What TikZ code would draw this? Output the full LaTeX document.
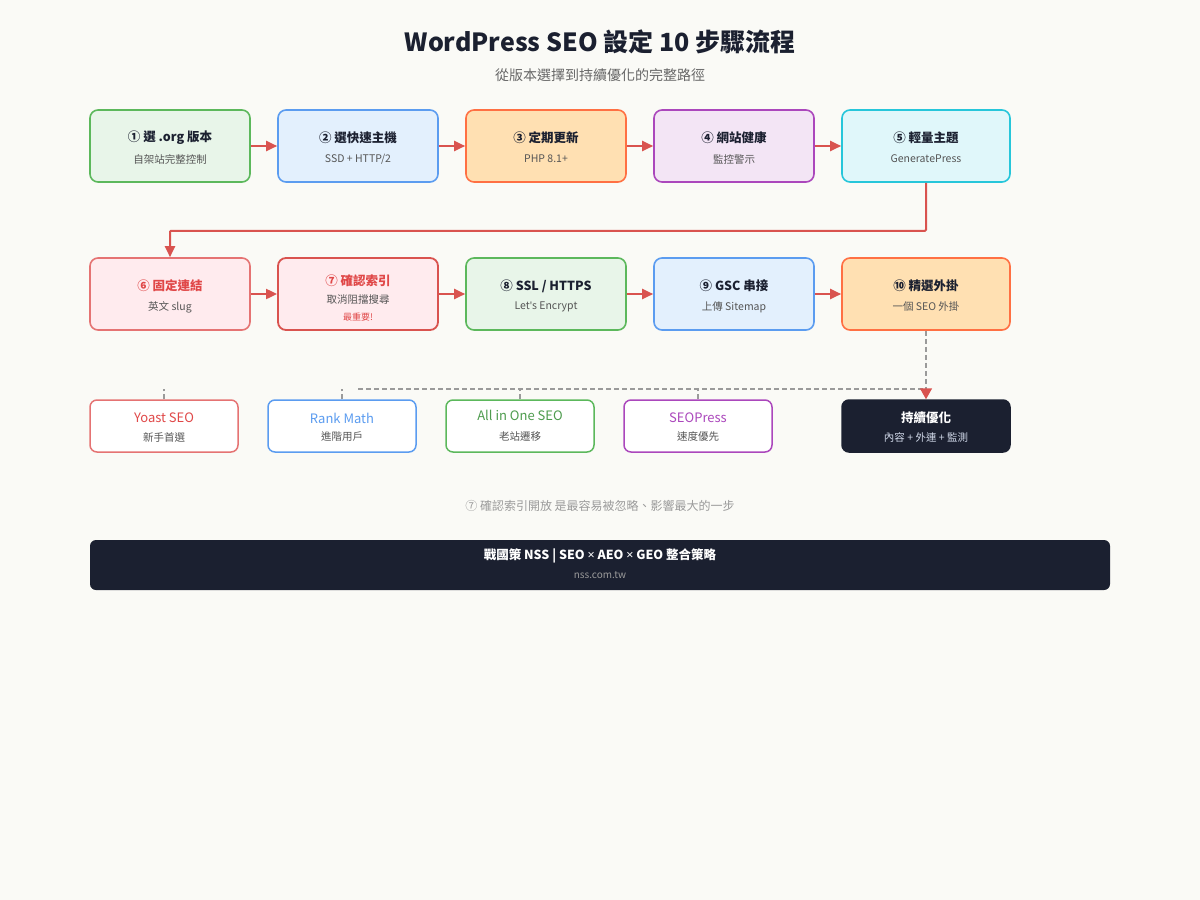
\documentclass[tikz,border=0pt]{standalone}
\usepackage{fontspec}
\setmainfont{Noto Sans CJK TC}
\newfontfamily\latinfont{Noto Sans}
\usetikzlibrary{arrows.meta}
\definecolor{bg}{HTML}{FAFAF6}
\definecolor{ink}{HTML}{1B2030}
\definecolor{subc}{HTML}{555555}
\definecolor{arrowred}{HTML}{D9534F}
\definecolor{dashc}{HTML}{9A9A9A}
\definecolor{gB}{HTML}{5CB85C}\definecolor{gF}{HTML}{E8F5E9}
\definecolor{bB}{HTML}{5B9CF0}\definecolor{bF}{HTML}{E3F0FD}
\definecolor{oB}{HTML}{FF7043}\definecolor{oF}{HTML}{FFE0B2}
\definecolor{pB}{HTML}{AB47BC}\definecolor{pF}{HTML}{F3E5F5}
\definecolor{cB}{HTML}{26C6DA}\definecolor{cF}{HTML}{E0F7FA}
\definecolor{rB}{HTML}{E57373}\definecolor{rF}{HTML}{FFEBEE}
\definecolor{rT}{HTML}{E04848}
\definecolor{optsub}{HTML}{D0D8E8}
\begin{document}
\begin{tikzpicture}[x=1pt,y=-1pt,
  stepbox/.style={draw, rounded corners=8pt, line width=1.6pt, minimum width=160pt, minimum height=72pt, inner sep=0pt},
  plugbox/.style={draw, fill=white, rounded corners=7pt, line width=1.5pt, minimum width=148pt, minimum height=52pt, inner sep=0pt},
  ttl/.style={font=\bfseries\fontsize{12.5}{15}\selectfont, text=ink, inner sep=0pt},
  sub/.style={font=\fontsize{10.5}{13}\selectfont, text=subc, inner sep=0pt},
  ptl/.style={font=\fontsize{13}{16}\selectfont, inner sep=0pt},
  arr/.style={draw=arrowred, line width=2pt, -{Triangle[length=11pt,width=10pt]}},
  dsh/.style={draw=dashc, line width=1.5pt, dash pattern=on 5pt off 3pt},
]
\fill[bg] (0,0) rectangle (1200,900);
\useasboundingbox (0,0) rectangle (1200,900);

% title
\node[font=\bfseries\fontsize{25}{30}\selectfont, text=ink] (title) at (600,42) {WordPress SEO 設定 10 步驟流程};
\node[font=\fontsize{14}{17}\selectfont, text=subc!90] (subtitle) at (600,75) {從版本選擇到持續優化的完整路徑};

% row 1
\node[stepbox, draw=gB, fill=gF] (b1) at (170,146) {};
\node[stepbox, draw=bB, fill=bF] (b2) at (358,146) {};
\node[stepbox, draw=oB, fill=oF] (b3) at (546,146) {};
\node[stepbox, draw=pB, fill=pF] (b4) at (734,146) {};
\node[stepbox, draw=cB, fill=cF, minimum width=168pt] (b5) at (926,146) {};
\node[ttl] (b1t) at (170,138) {① 選 .org 版本};
\node[sub] (b1s) at (170,159) {自架站完整控制};
\node[ttl] (b2t) at (358,138) {② 選快速主機};
\node[sub] (b2s) at (358,159) {SSD + HTTP/2};
\node[ttl] (b3t) at (546,138) {③ 定期更新};
\node[sub] (b3s) at (546,159) {PHP 8.1+};
\node[ttl] (b4t) at (734,138) {④ 網站健康};
\node[sub] (b4s) at (734,159) {監控警示};
\node[ttl] (b5t) at (926,138) {⑤ 輕量主題};
\node[sub] (b5s) at (926,159) {GeneratePress};

% row 2
\node[stepbox, draw=rB, fill=rF] (b6) at (170,294) {};
\node[stepbox, draw=arrowred, fill=rF, line width=1.8pt] (b7) at (358,294) {};
\node[stepbox, draw=gB, fill=gF] (b8) at (546,294) {};
\node[stepbox, draw=bB, fill=bF] (b9) at (734,294) {};
\node[stepbox, draw=oB, fill=oF, minimum width=168pt] (b10) at (926,294) {};
\node[ttl, text=rT] (b6t) at (170,286) {⑥ 固定連結};
\node[sub] (b6s) at (170,307) {英文 slug};
\node[ttl, text=rT] (b7t) at (358,281) {⑦ 確認索引};
\node[sub] (b7s) at (358,300) {取消阻擋搜尋};
\node[font=\fontsize{9}{11}\selectfont, text=rT, inner sep=0pt] (b7n) at (358,317) {最重要!};
\node[ttl] (b8t) at (546,286) {⑧ SSL / HTTPS};
\node[sub] (b8s) at (546,307) {Let{\latinfont '}s Encrypt};
\node[ttl] (b9t) at (734,286) {⑨ GSC 串接};
\node[sub] (b9s) at (734,307) {上傳 Sitemap};
\node[ttl] (b10t) at (926,286) {⑩ 精選外掛};
\node[sub] (b10s) at (926,307) {一個 SEO 外掛};

% row 3
\node[plugbox, draw=rB] (p1) at (164,426) {};
\node[plugbox, draw=bB] (p2) at (342,426) {};
\node[plugbox, draw=gB] (p3) at (520,426) {};
\node[plugbox, draw=pB] (p4) at (698,426) {};
\node[plugbox, draw=ink, fill=ink, minimum width=168pt] (opt) at (926,426) {};
\node[ptl, text=rT] (p1t) at (164,418) {Yoast SEO};
\node[sub] (p1s) at (164,437) {新手首選};
\node[ptl, text=bB] (p2t) at (342,418) {Rank Math};
\node[sub] (p2s) at (342,437) {進階用戶};
\node[ptl, text=gB!85!black] (p3t) at (520,415) {All in One SEO};
\node[sub] (p3s) at (520,437) {老站遷移};
\node[ptl, text=pB] (p4t) at (698,418) {SEOPress};
\node[sub] (p4s) at (698,437) {速度優先};
\node[ttl, text=white] (optt) at (926,418) {持續優化};
\node[sub, text=optsub] (opts) at (926,437) {內容 + 外連 + 監測};

% connectors row 1
\draw[arr] (b1.east) -- (b2.west);
\draw[arr] (b2.east) -- (b3.west);
\draw[arr] (b3.east) -- (b4.west);
\draw[arr] (b4.east) -- (b5.west);
\draw[arr, rounded corners=1pt] (b5.south) -- ++(0,48) -| (b6.north);
% row 2
\draw[arr] (b6.east) -- (b7.west);
\draw[arr] (b7.east) -- (b8.west);
\draw[arr] (b8.east) -- (b9.west);
\draw[arr] (b9.east) -- (b10.west);

% dashed plugin links
\coordinate (hj) at (358,389);
\draw[dsh] (hj) -- (b10.south |- hj);
\draw[dsh, -{Triangle[length=11pt,width=12pt,color=arrowred]}] (b10.south) -- (opt.north);
\draw[dsh] (p1.north) -- ++(0,-10);
\draw[dsh] (p2.north) -- ++(0,-10);
\draw[dsh] (p3.north) -- ++(0,-11);
\draw[dsh] (p4.north) -- ++(0,-11);

% note
\node[font=\fontsize{12}{14}\selectfont, text=dashc] (note) at (600,506) {⑦ 確認索引開放 是最容易被忽略、影響最大的一步};

% footer
\node[draw=none, fill=ink, rounded corners=6pt, minimum width=1020pt, minimum height=50pt, inner sep=0pt] (foot) at (600,565) {};
\node[font=\bfseries\fontsize{12.5}{15}\selectfont, text=white, inner sep=0pt] (foott) at (600,556) {戰國策 NSS | SEO {\latinfont ×} AEO {\latinfont ×} GEO 整合策略};
\node[font=\fontsize{10}{12}\selectfont, text=dashc, inner sep=0pt] (foots) at (600,575) {nss.com.tw};
\end{tikzpicture}
\end{document}
